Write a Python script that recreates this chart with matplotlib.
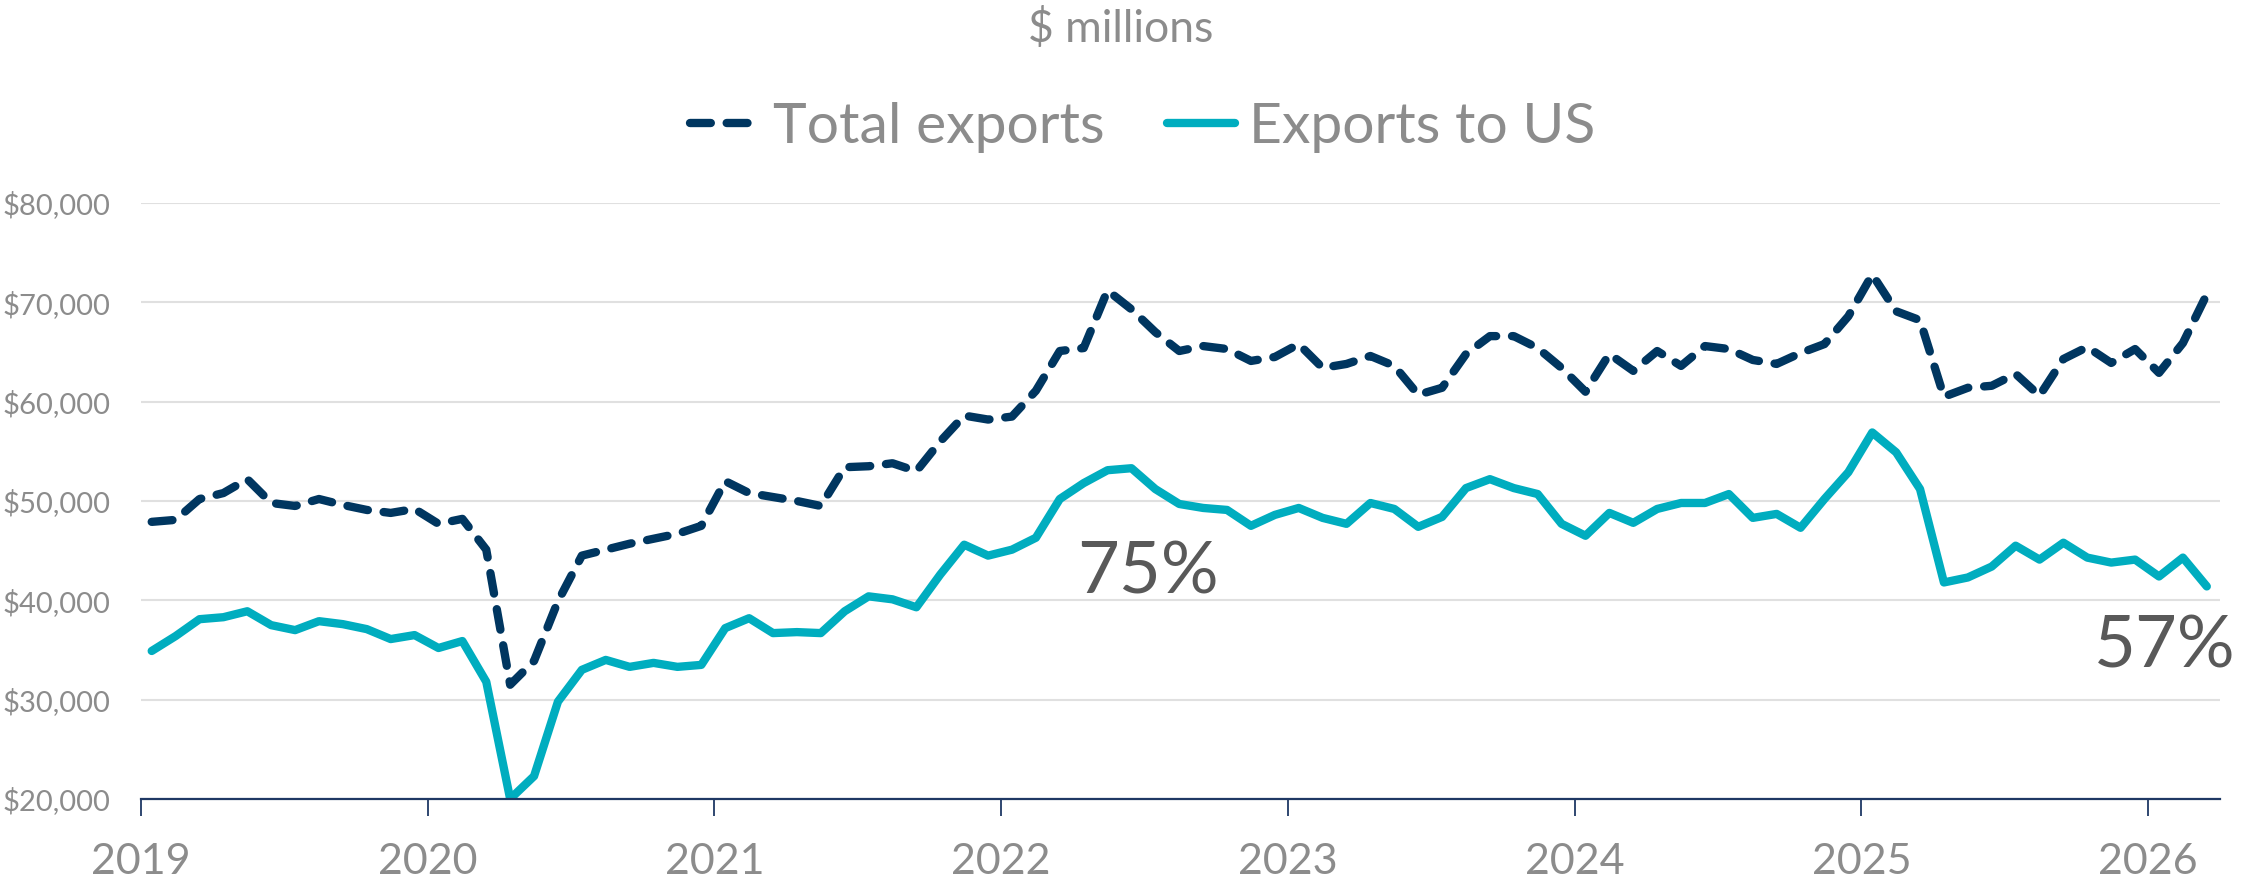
import matplotlib.pyplot as plt
from matplotlib.ticker import FuncFormatter
import numpy as np

# monthly values, $ millions, Jan 2019 - Mar 2026
total_exports = [
    47900, 48100, 50200, 50800, 52200, 49800, 49500, 50200, 49600, 49100, 48800, 49200,  # 2019
    47700, 48200, 45100, 31500, 33900, 39900, 44500, 45100, 45700, 46200, 46700, 47500,  # 2020
    52000, 50800, 50400, 50000, 49500, 53400, 53500, 53800, 53000, 56000, 58600, 58200,  # 2021
    58500, 61100, 65100, 65400, 71200, 69300, 67000, 65100, 65600, 65300, 64100, 64500,  # 2022
    65800, 63400, 63800, 64600, 63600, 60700, 61400, 64800, 66600, 66600, 65400, 63400,  # 2023
    61000, 64800, 63100, 65100, 63600, 65600, 65300, 64200, 63800, 64900, 65800, 68600,  # 2024
    72800, 69100, 68200, 60500, 61400, 61600, 62800, 60600, 64300, 65500, 63900, 65300,  # 2025
    62900, 65900, 70800,                                                                # 2026
]
exports_to_us = [
    34900, 36400, 38100, 38300, 38900, 37500, 37000, 37900, 37600, 37100, 36100, 36500,
    35200, 35900, 31800, 20000, 22300, 29800, 33000, 34000, 33300, 33700, 33300, 33500,
    37200, 38200, 36700, 36800, 36700, 38900, 40400, 40100, 39300, 42600, 45600, 44500,
    45100, 46300, 50200, 51800, 53100, 53300, 51200, 49700, 49300, 49100, 47500, 48600,
    49300, 48300, 47700, 49800, 49200, 47400, 48400, 51300, 52200, 51300, 50700, 47700,
    46500, 48800, 47800, 49200, 49800, 49800, 50700, 48300, 48700, 47300, 50200, 52900,
    56900, 54900, 51200, 41800, 42300, 43400, 45500, 44100, 45800, 44300, 43800, 44100,
    42400, 44300, 41400,
]
years = [2019, 2020, 2021, 2022, 2023, 2024, 2025, 2026]
y_ticks = [20000, 30000, 40000, 50000, 60000, 70000, 80000]

# US share annotations: (label, x in years, baseline value)
share_notes = [("75%", 2022.51, 40700), ("57%", 2026.057, 33200)]

# mid-month positions on a year scale
months = 2019 + (np.arange(len(total_exports)) + 0.45) / 12

plt.rcParams['font.family'] = ['Lato', 'DejaVu Sans']
grey = '#8c8c8c'
navy = '#003660'
teal = '#00adbf'
axis_blue = '#1f3864'

fig = plt.figure(figsize=(22.41, 8.94), dpi=100)
ax = fig.add_axes([0.0629, 0.1063, 0.9277, 0.6666])

ax.plot(months, total_exports, color=navy, lw=6, dashes=(2.5, 1.9),
        dash_capstyle='round', dash_joinstyle='round', label='Total exports')
ax.plot(months, exports_to_us, color=teal, lw=6,
        solid_capstyle='round', solid_joinstyle='round', label='Exports to US')

ax.set_xlim(2019, 2026.25)
ax.set_ylim(20000, 80000)
ax.set_xticks(years)
ax.set_xticklabels([str(y) for y in years])
ax.set_yticks(y_ticks)
ax.yaxis.set_major_formatter(FuncFormatter(lambda v, p: "${:,.0f}".format(v)))

ax.yaxis.grid(True, color='#e0e0e0', lw=1.5)
ax.set_axisbelow(True)
for s in ['top', 'right', 'left']:
    ax.spines[s].set_visible(False)
ax.spines['bottom'].set_color(axis_blue)
ax.spines['bottom'].set_linewidth(1.6)
ax.spines['bottom'].set_zorder(5)

ax.tick_params(axis='x', direction='out', length=12, width=1.3, color=axis_blue,
               labelsize=31, labelcolor=grey, pad=20)
ax.tick_params(axis='y', length=0, labelsize=21, labelcolor=grey, pad=22)

for label, xpos, ypos in share_notes:
    ax.text(xpos, ypos, label, ha='center', va='baseline', fontsize=52,
            color='#595959', clip_on=False)

fig.text(0.5, 1 - 29 / 894, '$ millions', ha='center', va='center',
         fontsize=32, color=grey)
fig.legend(loc='center', bbox_to_anchor=(0.51, 0.857), ncol=2, frameon=False,
           fontsize=41, handlelength=1.2, handletextpad=0.25, columnspacing=1.1,
           labelcolor=grey)

plt.savefig('out.png', dpi=100)
